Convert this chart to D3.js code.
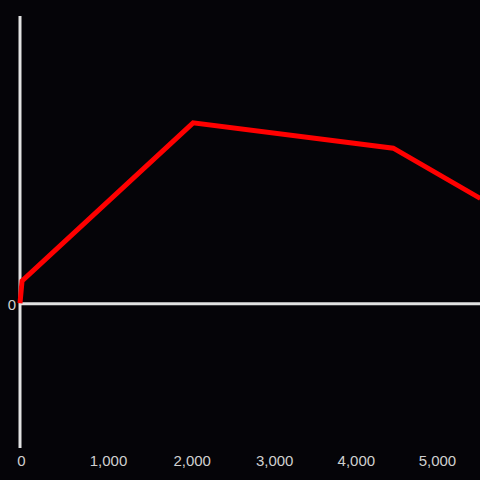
<!DOCTYPE html>
<html>
<head>
<meta charset="utf-8">
<script src="https://cdn.jsdelivr.net/npm/d3@7"></script>
<style>
  html, body { margin: 0; padding: 0; background: #050408; }
  svg { display: block; }
</style>
</head>
<body>
<div id="chart"></div>
<script>
// data
var xValues = [0, 21, 2029, 4473, 5550];
var yValues = [0, 7.8, 62.8, 54, 36.5];
var xTicks = [0, 1000, 2000, 3000, 4000, 5000];
var yTicks = [0];

var width = 480, height = 480;

var svg = d3.select("#chart").append("svg")
	.attr("width", width)
	.attr("height", height)
	.style("background", "#050408");

var x = d3.scalePow().exponent(0.972)
	.domain([0, 5546])
	.range([20, 480]);

var y = d3.scaleLinear()
	.domain([-50, 100])
	.range([447, 16]);

var labelColor = "#d0d0d0",
	axisColor = "#e2e2e2";

// y axis line
svg.append("line")
	.attr("x1", x(0)).attr("x2", x(0))
	.attr("y1", 16).attr("y2", 448)
	.attr("stroke", axisColor)
	.attr("stroke-width", 3);

// x axis line at zero
svg.append("line")
	.attr("x1", x(0)).attr("x2", width)
	.attr("y1", y(0) + 0.5).attr("y2", y(0) + 0.5)
	.attr("stroke", axisColor)
	.attr("stroke-width", 3);

// bottom tick labels
var xAxis = d3.axisBottom(x)
	.tickValues(xTicks)
	.tickSize(0)
	.tickPadding(0)
	.tickFormat(d3.format(","));

var gx = svg.append("g")
	.attr("transform", "translate(1," + 455 + ")")
	.call(xAxis);
gx.select(".domain").remove();
gx.selectAll("text")
	.attr("fill", labelColor)
	.style("font-family", "'Liberation Sans', Arial, sans-serif")
	.style("font-size", "15px");

// left tick label
var yAxis = d3.axisLeft(y)
	.tickValues(yTicks)
	.tickSize(0)
	.tickPadding(4);

var gy = svg.append("g")
	.attr("transform", "translate(" + x(0) + ",1)")
	.call(yAxis);
gy.select(".domain").remove();
gy.selectAll("text")
	.attr("fill", labelColor)
	.style("font-family", "'Liberation Sans', Arial, sans-serif")
	.style("font-size", "15px");

// the line
var line = d3.line()
	.x(function(d, i) { return x(xValues[i]); })
	.y(function(d, i) { return y(yValues[i]); });

svg.append("path")
	.datum(xValues)
	.attr("d", line)
	.attr("fill", "none")
	.attr("stroke", "#ff0000")
	.attr("stroke-width", 5)
	.attr("stroke-linejoin", "miter");
</script>
</body>
</html>
